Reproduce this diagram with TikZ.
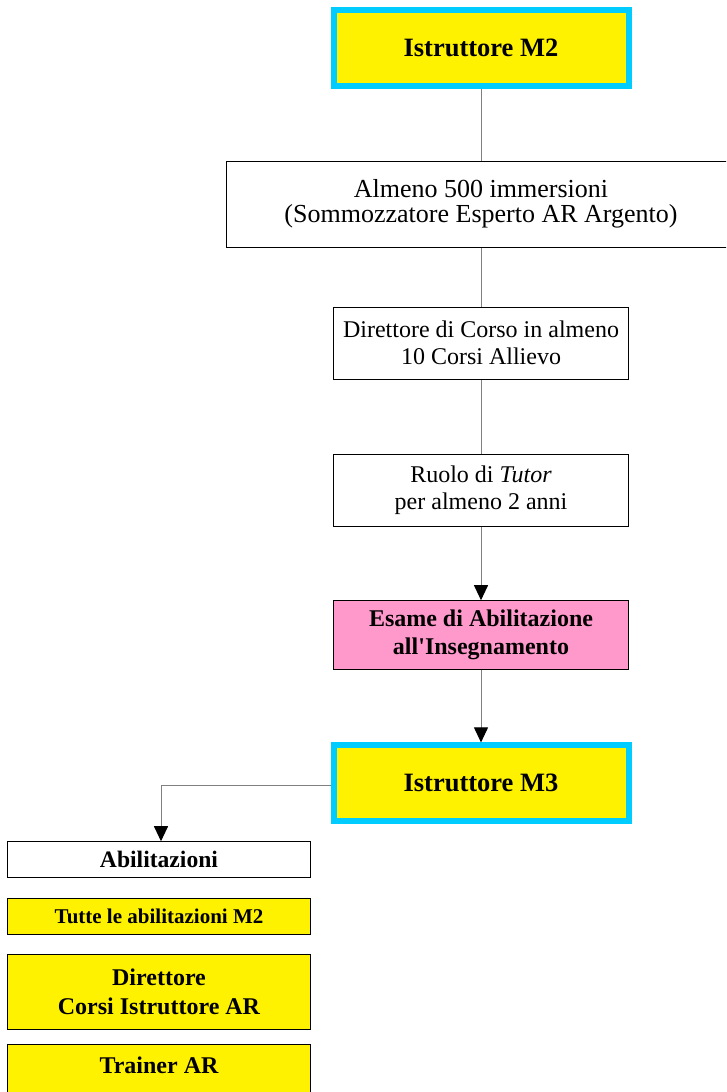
\documentclass[tikz,border=0pt]{standalone}
\usepackage{fontspec}
\setmainfont{Liberation Serif}
\usetikzlibrary{arrows.meta}
\definecolor{cyanb}{HTML}{00CCFF}
\definecolor{pinkf}{HTML}{FF99CC}
\definecolor{conn}{HTML}{808080}
\begin{document}
\begin{tikzpicture}[x=1pt,y=-1pt,
  box/.style={draw=black, line width=1pt, inner sep=0pt, align=center},
  titlebox/.style={draw=cyanb, fill=yellow, line width=6pt, minimum width=295pt, minimum height=76pt, inner sep=0pt, align=center, font=\fontsize{26.5}{30}\selectfont\bfseries},
  reqbox/.style={box, fill=white, minimum width=295pt, minimum height=72pt, font=\fontsize{24}{27}\selectfont},
  habbox/.style={box, fill=yellow, minimum width=303.4pt, font=\fontsize{24}{28.4}\selectfont\bfseries},
  conn/.style={draw=conn, line width=1pt},
  arr/.style={conn, -{Triangle[width=14pt,length=15pt,color=black]}}
]
\useasboundingbox (0,0) rectangle (726,1092);
\clip (0,0) rectangle (726,1092);
\fill[white] (0,0) rectangle (726,1092);

\node[titlebox] (m2) at (481,48) {Istruttore M2};
\node[reqbox, minimum width=510pt, minimum height=86pt, font=\fontsize{26}{24.5}\selectfont] (almeno) at (481,204) {Almeno 500 immersioni\\(Sommozzatore Esperto AR Argento)};
\node[reqbox] (dir) at (481,343) {Direttore di Corso in almeno\\10 Corsi Allievo};
\node[reqbox] (ruolo) at (481,490) {Ruolo di \textit{Tutor}\\per almeno 2 anni};
\node[reqbox, fill=pinkf, minimum height=68.6pt, font=\fontsize{24}{27.5}\selectfont\bfseries] (esame) at (481,635) {Esame di Abilitazione\\all\textquotesingle Insegnamento};
\node[titlebox, minimum height=75.2pt] (m3) at (481,783) {Istruttore M3};

\node[box, fill=white, minimum width=303.4pt, minimum height=36pt, font=\fontsize{23.6}{27}\selectfont\bfseries] (abil) at (159,859.7) {Abilitazioni};
\node[habbox, minimum height=35.3pt, font=\fontsize{21}{24}\selectfont\bfseries] (tutte) at (159,916.6) {Tutte le abilitazioni M2};
\node[habbox, minimum height=75.3pt] (dircorsi) at (159,991.7) {Direttore\\Corsi Istruttore AR};
\node[habbox, anchor=north, text height=29pt, text depth=46pt] (trainer) at (159,1044) {Trainer AR};

\draw[conn] (m2.south) -- (almeno.north);
\draw[conn] (almeno.south) -- (dir.north);
\draw[conn] (dir.south) -- (ruolo.north);
\draw[arr] (ruolo.south) -- (esame.north);
\draw[arr] (esame.south) -- (m3.north);
\draw[arr] ([yshift=-2pt]m3.west) -| ([xshift=2pt]abil.north);
\end{tikzpicture}
\end{document}
